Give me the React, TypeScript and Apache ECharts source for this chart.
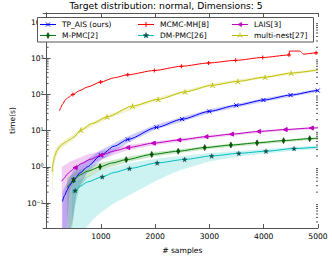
import React, { useEffect, useRef } from "react";
import * as echarts from "echarts";

const TITLE = "Target distribution: normal, Dimensions: 5";
const X_NAME = "# samples";
const Y_NAME = "time(s)";
const X_MIN = 0;
const X_MAX = 5000;
const Y_MIN = 0.0204;
const Y_MAX = 17800;
const X_TICKS_INTERVAL = 1000;
const MINOR_TICKS = [
  0.03, 0.04, 0.05, 0.06, 0.07, 0.08, 0.09,
  0.2, 0.3, 0.4, 0.5, 0.6, 0.7, 0.8, 0.9,
  2, 3, 4, 5, 6, 7, 8, 9,
  20, 30, 40, 50, 60, 70, 80, 90,
  200, 300, 400, 500, 600, 700, 800, 900,
  2000, 3000, 4000, 5000, 6000, 7000, 8000, 9000,
];

// TP_AIS (ours)
const TP_X = [291, 330, 379, 420, 497, 620, 750, 1000, 1243, 1496, 2025, 2496, 2995, 3495, 3995, 4494, 4995, 5000];
const TP_Y = [0.11, 0.16, 0.23, 0.3, 0.43, 0.68, 1.0, 2.1, 3.7, 5.7, 12.3, 20.7, 34, 50, 70, 96, 128, 129];
const TP_MK = [0, 0, 0, 0, 1, 0, 0, 1, 0, 1, 1, 1, 1, 1, 1, 1, 1, 0];
const TP_BX = [291, 450, 500, 550, 750, 1000, 1500, 2000, 3000, 4000, 5000];
const TP_LO = [0.001, 0.001, 0.05, 0.2, 0.7, 1.5, 4.6, 10.5, 30, 63, 116];
const TP_HI = [0.2, 0.6, 0.85, 1.05, 1.6, 2.9, 7.0, 14.5, 39, 78, 141];

// MCMC-MH[8]
const MH_X = [238, 260, 291, 349, 400, 485, 600, 750, 996, 1250, 1496, 1984, 2483, 2984, 3483, 3982, 4466, 4475, 4665, 4735, 4965, 5000];
const MH_Y = [35, 43, 53, 72, 83, 100, 126, 160, 220, 290, 350, 460, 600, 740, 875, 1050, 1230, 1580, 1580, 1300, 1410, 1420];
const MH_MK = [0, 0, 0, 0, 0, 1, 0, 0, 1, 0, 1, 1, 1, 1, 1, 1, 1, 0, 0, 0, 1, 0];

// LAIS[3]
const LA_X = [280, 320, 380, 440, 526, 650, 800, 1000, 1250, 1496, 1966, 2437, 2937, 3407, 3907, 4395, 4877, 5000];
const LA_Y = [0.4, 0.48, 0.62, 0.76, 0.95, 1.25, 1.6, 2.1, 2.75, 3.4, 4.5, 5.5, 6.8, 8.0, 9.5, 10.7, 11.8, 12.0];
const LA_MK = [0, 0, 0, 0, 1, 0, 0, 1, 0, 1, 1, 1, 1, 1, 1, 1, 1, 0];
const LA_BX = [280, 370, 420, 526, 750, 1000, 1500, 2000, 3000, 4000, 5000];
const LA_LO = [0.001, 0.001, 0.2, 0.5, 1.0, 1.6, 2.9, 4.0, 6.3, 8.9, 11.2];
const LA_HI = [1.0, 1.2, 1.35, 1.6, 2.2, 2.7, 4.0, 5.1, 7.4, 10.3, 12.9];

// M-PMC[2]
const MP_X = [379, 420, 497, 620, 750, 985, 1200, 1467, 1937, 2425, 2913, 3395, 3877, 4365, 4847, 5000];
const MP_Y = [0.27, 0.33, 0.43, 0.6, 0.75, 1.0, 1.27, 1.58, 2.2, 2.7, 3.4, 4.0, 4.6, 5.3, 6.0, 6.2];
const MP_MK = [0, 0, 1, 0, 0, 1, 0, 1, 1, 1, 1, 1, 1, 1, 1, 0];
const MP_BX = [379, 470, 520, 600, 750, 1000, 1500, 2000, 3000, 4000, 5000];
const MP_LO = [0.001, 0.001, 0.08, 0.25, 0.5, 0.8, 1.35, 1.95, 3.1, 4.3, 5.7];
const MP_HI = [0.5, 0.6, 0.7, 0.8, 1.0, 1.3, 1.9, 2.55, 3.8, 5.1, 6.7];

// DM-PMC[26]
const DM_X = [467, 526, 620, 750, 1026, 1250, 1526, 2037, 2543, 3042, 3541, 4042, 4559, 5000];
const DM_Y = [0.196, 0.22, 0.29, 0.38, 0.53, 0.7, 0.9, 1.28, 1.6, 2.0, 2.36, 2.7, 3.2, 3.5];
const DM_MK = [0, 1, 0, 0, 1, 0, 1, 1, 1, 1, 1, 1, 1, 0];
const DM_BX = [467, 600, 728, 850, 1000, 1250, 1500, 1750, 2000, 2250, 2500, 3000, 3500, 4000, 4500, 5000];
const DM_LO = [0.001, 0.001, 0.02, 0.035, 0.055, 0.1, 0.16, 0.25, 0.4, 0.6, 0.85, 1.4, 1.9, 2.3, 2.75, 3.1];
const DM_HI = [0.35, 0.45, 0.52, 0.62, 0.8, 1.0, 1.25, 1.45, 1.65, 1.85, 2.0, 2.4, 2.75, 3.05, 3.55, 3.85];

// multi-nest[27]
const MN_X = [102, 110, 120, 145, 190, 233, 290, 349, 420, 497, 631, 850, 1114, 1584, 2055, 2550, 3055, 3524, 4025, 4506, 5000];
const MN_Y = [0.73, 1.0, 1.3, 1.9, 2.8, 3.5, 4.2, 4.8, 5.6, 6.6, 10.4, 16, 24, 48, 73, 118, 180, 230, 300, 390, 478];
const MN_MK = [0, 0, 0, 0, 0, 0, 0, 0, 0, 0, 1, 0, 1, 1, 1, 1, 1, 1, 1, 1, 0];
const MN_BX = [102, 120, 145, 190, 233, 349, 497, 631, 1114, 2000, 3000, 4000, 5000];
const MN_LO = [0.12, 0.5, 1.2, 2.1, 2.8, 4.0, 5.6, 9.0, 21, 66, 165, 275, 440];
const MN_HI = [1.0, 1.9, 2.7, 3.6, 4.3, 5.8, 7.8, 11.8, 27, 80, 196, 328, 520];

const FONT = "DejaVu Sans";
const AXIS_COLOR = "#555";

const C_TP = "#0000ff";
const C_MH = "#ff0000";
const C_LA = "#bf00bf";
const C_MP = "#008000";
const C_MP_MK = "#005a00";
const C_DM = "#00bfbf";
const C_DM_MK = "#0a5050";
const C_MN = "#bfbf00";

const X_SYM = "path://M0,0L10,10M10,0L0,10";
const PLUS_SYM = "path://M5,0L5,10M0,5L10,5";
const STAR_SYM = "path://M5,0L6.2,3.6L10,3.6L6.9,5.9L8.1,9.5L5,7.3L1.9,9.5L3.1,5.9L0,3.6L3.8,3.6Z";
const TRI_SYM = "path://M5,5L5,0M5,5L0.7,7.5M5,5L9.3,7.5";

const LEGEND_NAMES = ["TP_AIS (ours)", "M-PMC[2]", "MCMC-MH[8]", "DM-PMC[26]", "LAIS[3]", "multi-nest[27]"];
const LEGEND_COLORS = [C_TP, C_MP, C_MH, C_DM, C_LA, C_MN];
const LEGEND_MK_COLORS = [C_TP, C_MP_MK, C_MH, C_DM_MK, C_LA, C_MN];
const LEGEND_MARKERS = ["x", "diamond", "plus", "star", "triLeft", "tri"];
const LEGEND_COL_X = [40, 138, 232];
const LEGEND_ROW_Y = [24.5, 35.5];

const SUP: Record<string, string> = {
  "-": "\u207B", "0": "\u2070", "1": "\u00B9", "2": "\u00B2", "3": "\u00B3",
  "4": "\u2074", "5": "\u2075", "6": "\u2076", "7": "\u2077", "8": "\u2078", "9": "\u2079",
};

function logLabel(v: number): string {
  const e = Math.log10(v);
  const r = Math.round(e);
  if (Math.abs(e - r) > 1e-6) return "";
  return "10" + String(r).split("").map((c) => SUP[c] || c).join("");
}

function markerGraphic(kind: string, cx: number, cy: number, color: string): any[] {
  const ln = (x1: number, y1: number, x2: number, y2: number) => ({
    type: "line", z: 10, shape: { x1, y1, x2, y2 }, style: { stroke: color, lineWidth: 1 },
  });
  if (kind === "x") return [ln(cx - 2, cy - 2, cx + 2, cy + 2), ln(cx + 2, cy - 2, cx - 2, cy + 2)];
  if (kind === "plus") return [ln(cx, cy - 2.5, cx, cy + 2.5), ln(cx - 2.5, cy, cx + 2.5, cy)];
  if (kind === "tri") return [ln(cx, cy, cx, cy - 2.8), ln(cx, cy, cx - 2.4, cy + 1.4), ln(cx, cy, cx + 2.4, cy + 1.4)];
  let pts: number[][] = [];
  if (kind === "diamond") pts = [[cx, cy - 3.2], [cx + 1.6, cy], [cx, cy + 3.2], [cx - 1.6, cy]];
  if (kind === "triLeft") pts = [[cx - 2.3, cy], [cx + 1.7, cy - 2.2], [cx + 1.7, cy + 2.2]];
  if (kind === "star") {
    for (let k = 0; k < 10; k++) {
      const a = -Math.PI / 2 + (k * Math.PI) / 5;
      const r = k % 2 === 0 ? 3 : 1.25;
      pts.push([cx + r * Math.cos(a), cy + r * Math.sin(a)]);
    }
  }
  return [{ type: "polygon", z: 10, shape: { points: pts }, style: { fill: color, stroke: color, lineWidth: 0.4 } }];
}

function legendGraphics(): any[] {
  const out: any[] = [
    {
      type: "rect",
      z: 9,
      shape: { x: 37.5, y: 17.5, width: 276, height: 24.5 },
      style: { fill: "#fff", stroke: AXIS_COLOR, lineWidth: 1 },
    },
  ];
  LEGEND_NAMES.forEach((name, i) => {
    const col = Math.floor(i / 2);
    const row = i % 2;
    const x = LEGEND_COL_X[col];
    const y = LEGEND_ROW_Y[row];
    out.push({ type: "line", z: 10, shape: { x1: x, y1: y, x2: x + 16, y2: y }, style: { stroke: LEGEND_COLORS[i], lineWidth: 1 } });
    out.push(...markerGraphic(LEGEND_MARKERS[i], x + 8, y, LEGEND_MK_COLORS[i]));
    out.push({
      type: "text",
      z: 10,
      style: { text: name, x: x + 22, y, verticalAlign: "middle", fontFamily: FONT, fontSize: 7.5, fill: "#000" },
    });
  });
  return out;
}

function lineSeries(name: string, color: string, xs: number[], ys: number[], mk: number[], symbol: string, symbolSize: any, extra: any = {}) {
  return {
    type: "line",
    name,
    data: xs.map((x, i) => ({ value: [x, ys[i]], symbol: mk[i] ? symbol : "none" })),
    symbol,
    symbolSize,
    showAllSymbol: true,
    smooth: 0.25,
    smoothMonotone: "x",
    lineStyle: { color, width: 1 },
    itemStyle: { color, borderColor: color, borderWidth: 1 },
    z: 3,
    clip: true,
    ...extra,
  };
}

function bandSeries(color: string, bx: number[], lo: number[], hi: number[]) {
  return {
    type: "custom",
    silent: true,
    clip: true,
    z: 1,
    data: [[bx[0], hi[0]]],
    encode: { x: 0, y: 1 },
    renderItem: (params: any, api: any) => {
      if (params.dataIndex !== 0) return null;
      const pts: number[][] = [];
      for (let i = 0; i < bx.length; i++) pts.push(api.coord([bx[i], Math.max(hi[i], Y_MIN)]));
      for (let i = bx.length - 1; i >= 0; i--) pts.push(api.coord([bx[i], Math.max(lo[i], Y_MIN)]));
      return { type: "polygon", shape: { points: pts, smooth: 0 }, style: { fill: color, opacity: 0.2 } };
    },
  };
}

function minorTickSeries() {
  return {
    type: "custom",
    silent: true,
    z: 5,
    data: MINOR_TICKS.map((v) => [X_MIN, v]),
    encode: { x: 0, y: 1 },
    renderItem: (params: any, api: any) => {
      const v = api.value(1);
      const l = api.coord([X_MIN, v]);
      const r = api.coord([X_MAX, v]);
      return {
        type: "group",
        children: [
          { type: "line", shape: { x1: l[0], y1: l[1], x2: l[0] + 2, y2: l[1] }, style: { stroke: AXIS_COLOR, lineWidth: 1 } },
          { type: "line", shape: { x1: r[0] - 2, y1: r[1], x2: r[0], y2: r[1] }, style: { stroke: AXIS_COLOR, lineWidth: 1 } },
        ],
      };
    },
  };
}

export default function App() {
  const ref = useRef<HTMLDivElement>(null);
  useEffect(() => {
    document.body.style.margin = "0";
    if (!ref.current) return;
    const chart = echarts.init(ref.current, null, { renderer: "svg" });
    const textStyle = { fontFamily: FONT, fontSize: 7.6, color: "#000" };
    chart.setOption({
      animation: false,
      backgroundColor: "#fff",
      title: {
        text: TITLE,
        left: "center",
        top: 1,
        padding: 0,
        textStyle: { fontFamily: FONT, fontSize: 9.2, fontWeight: "normal", color: "#000" },
      },
      grid: { left: 34, right: 14, top: 13, bottom: 27 },
      graphic: legendGraphics(),
      xAxis: [
        {
          type: "value",
          min: X_MIN,
          max: X_MAX,
          interval: X_TICKS_INTERVAL,
          name: X_NAME,
          nameLocation: "middle",
          nameGap: 18,
          nameTextStyle: textStyle,
          axisLine: { lineStyle: { color: AXIS_COLOR, width: 1 } },
          axisTick: { inside: true, length: 4, lineStyle: { color: AXIS_COLOR } },
          axisLabel: { ...textStyle, margin: 4, formatter: (v: number) => (v === 0 ? "" : String(v)) },
          splitLine: { show: false },
        },
        {
          type: "value",
          position: "top",
          min: X_MIN,
          max: X_MAX,
          interval: X_TICKS_INTERVAL,
          axisLine: { lineStyle: { color: AXIS_COLOR, width: 1 } },
          axisTick: { inside: true, length: 4, lineStyle: { color: AXIS_COLOR } },
          axisLabel: { show: false },
          splitLine: { show: false },
        },
      ],
      yAxis: [
        {
          type: "log",
          min: Y_MIN,
          max: Y_MAX,
          name: Y_NAME,
          nameLocation: "middle",
          nameGap: 22,
          nameTextStyle: textStyle,
          axisLine: { lineStyle: { color: AXIS_COLOR, width: 1 } },
          axisTick: { inside: true, length: 4, lineStyle: { color: AXIS_COLOR } },
          axisLabel: { ...textStyle, margin: 3, formatter: logLabel },
          splitLine: { show: false },
        },
        {
          type: "log",
          position: "right",
          min: Y_MIN,
          max: Y_MAX,
          axisLine: { lineStyle: { color: AXIS_COLOR, width: 1 } },
          axisTick: { inside: true, length: 4, lineStyle: { color: AXIS_COLOR } },
          axisLabel: { show: false },
          splitLine: { show: false },
        },
      ],
      series: [
        bandSeries(C_MN, MN_BX, MN_LO, MN_HI),
        bandSeries(C_LA, LA_BX, LA_LO, LA_HI),
        bandSeries(C_TP, TP_BX, TP_LO, TP_HI),
        bandSeries(C_MP, MP_BX, MP_LO, MP_HI),
        bandSeries(C_DM, DM_BX, DM_LO, DM_HI),
        lineSeries("TP_AIS (ours)", C_TP, TP_X, TP_Y, TP_MK, X_SYM, 4),
        lineSeries("M-PMC[2]", C_MP, MP_X, MP_Y, MP_MK, "diamond", [3, 6], {
          itemStyle: { color: C_MP_MK, borderColor: "#003c00", borderWidth: 0.6 },
        }),
        lineSeries("MCMC-MH[8]", C_MH, MH_X, MH_Y, MH_MK, PLUS_SYM, 4),
        lineSeries("DM-PMC[26]", C_DM, DM_X, DM_Y, DM_MK, STAR_SYM, 5, {
          itemStyle: { color: C_DM_MK, borderColor: "#0a4040", borderWidth: 0.3 },
        }),
        lineSeries("LAIS[3]", C_LA, LA_X, LA_Y, LA_MK, "triangle", 4, { symbolRotate: 90 }),
        lineSeries("multi-nest[27]", C_MN, MN_X, MN_Y, MN_MK, TRI_SYM, 5),
        minorTickSeries(),
      ],
    });
    return () => chart.dispose();
  }, []);
  return <div ref={ref} style={{ width: 332, height: 259 }} />;
}
